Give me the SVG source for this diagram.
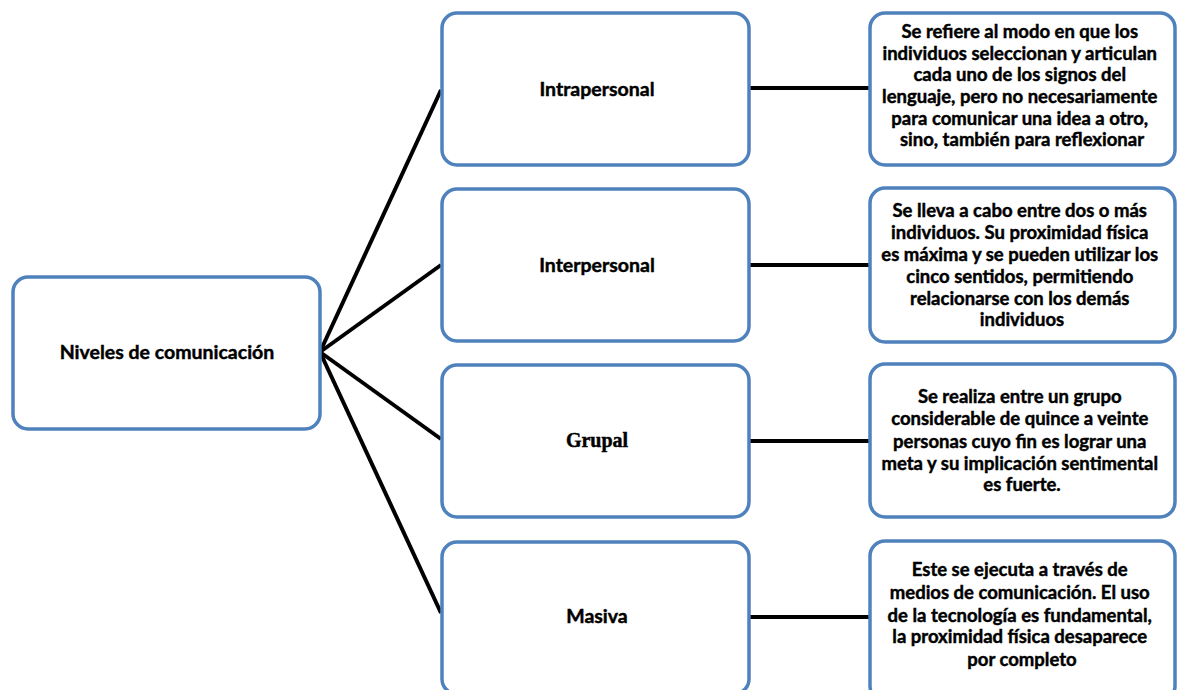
<svg xmlns="http://www.w3.org/2000/svg" width="1179" height="690" viewBox="0 0 1179 690">
  <style>
    .box { fill: #ffffff; stroke: #4f81bd; stroke-width: 3.5; }
    .link { stroke: #000000; stroke-width: 4; fill: none; }
    .label { font-family: Lato, "Liberation Sans", sans-serif; font-weight: bold; font-size: 19.5px; fill: #000000; stroke: #000000; stroke-width: 0.45; text-anchor: middle; }
    .desc { font-family: Lato, "Liberation Sans", sans-serif; font-weight: bold; font-size: 18.5px; fill: #000000; stroke: #000000; stroke-width: 0.45; text-anchor: middle; }
    .serif { font-family: "Liberation Serif", serif; font-size: 20px; }
  </style>
  <rect width="1179" height="690" fill="#ffffff"/>

  <!-- connectors -->
  <g id="connectors">
    <line class="link" x1="320" y1="352" x2="441" y2="90"/>
    <line class="link" x1="320" y1="352" x2="441" y2="265"/>
    <line class="link" x1="320" y1="352" x2="441" y2="439"/>
    <line class="link" x1="320" y1="352" x2="441" y2="613"/>
    <line class="link" x1="749" y1="88" x2="869" y2="88"/>
    <line class="link" x1="749" y1="265" x2="869" y2="265"/>
    <line class="link" x1="749" y1="441" x2="869" y2="441"/>
    <line class="link" x1="749" y1="617" x2="869" y2="617"/>
  </g>

  <!-- root -->
  <g id="niveles">
    <rect class="box" x="13" y="277" width="307" height="152" rx="15"/>
    <text class="label" x="167" y="359">Niveles de comunicación</text>
  </g>

  <!-- levels -->
  <g id="intrapersonal">
    <rect class="box" x="442" y="13" width="307" height="152" rx="15"/>
    <text class="label" x="597" y="96">Intrapersonal</text>
  </g>
  <g id="interpersonal">
    <rect class="box" x="442" y="189" width="307" height="152" rx="15"/>
    <text class="label" x="597" y="272">Interpersonal</text>
  </g>
  <g id="grupal">
    <rect class="box" x="442" y="365" width="307" height="152" rx="15"/>
    <text class="label serif" x="597" y="447">Grupal</text>
  </g>
  <g id="masiva">
    <rect class="box" x="442" y="542" width="307" height="152" rx="15"/>
    <text class="label" x="597" y="623">Masiva</text>
  </g>

  <!-- descriptions -->
  <g id="desc-intrapersonal">
    <rect class="box" x="870" y="13" width="305" height="152" rx="15"/>
    <text class="desc">
      <tspan x="1022" y="38">Se refiere al modo en que los</tspan>
      <tspan x="1022" y="60">individuos seleccionan  y articulan</tspan>
      <tspan x="1022" y="81">cada uno de los signos del</tspan>
      <tspan x="1022" y="103">lenguaje, pero no necesariamente</tspan>
      <tspan x="1022" y="125">para comunicar una idea a otro,</tspan>
      <tspan x="1022" y="146">sino, también  para reflexionar</tspan>
    </text>
  </g>
  <g id="desc-interpersonal">
    <rect class="box" x="870" y="188" width="305" height="154" rx="15"/>
    <text class="desc">
      <tspan x="1022" y="217">Se lleva a cabo entre dos o más</tspan>
      <tspan x="1022" y="239">individuos.  Su proximidad física</tspan>
      <tspan x="1022" y="261">es máxima y se pueden utilizar los</tspan>
      <tspan x="1022" y="283">cinco sentidos, permitiendo</tspan>
      <tspan x="1022" y="305">relacionarse con los demás</tspan>
      <tspan x="1022" y="326">individuos</tspan>
    </text>
  </g>
  <g id="desc-grupal">
    <rect class="box" x="870" y="364" width="305" height="153" rx="15"/>
    <text class="desc">
      <tspan x="1022" y="403">Se realiza entre un grupo</tspan>
      <tspan x="1022" y="425">considerable de quince a veinte</tspan>
      <tspan x="1022" y="448">personas cuyo fin es lograr una</tspan>
      <tspan x="1022" y="470">meta y su implicación sentimental</tspan>
      <tspan x="1022" y="491">es fuerte.</tspan>
    </text>
  </g>
  <g id="desc-masiva">
    <rect class="box" x="870" y="541" width="305" height="160" rx="15"/>
    <text class="desc">
      <tspan x="1022" y="576">Este se ejecuta a través de</tspan>
      <tspan x="1022" y="599">medios de comunicación.  El uso</tspan>
      <tspan x="1022" y="622">de la tecnología es fundamental,</tspan>
      <tspan x="1022" y="643">la proximidad física desaparece</tspan>
      <tspan x="1022" y="666">por completo</tspan>
    </text>
  </g>
</svg>
